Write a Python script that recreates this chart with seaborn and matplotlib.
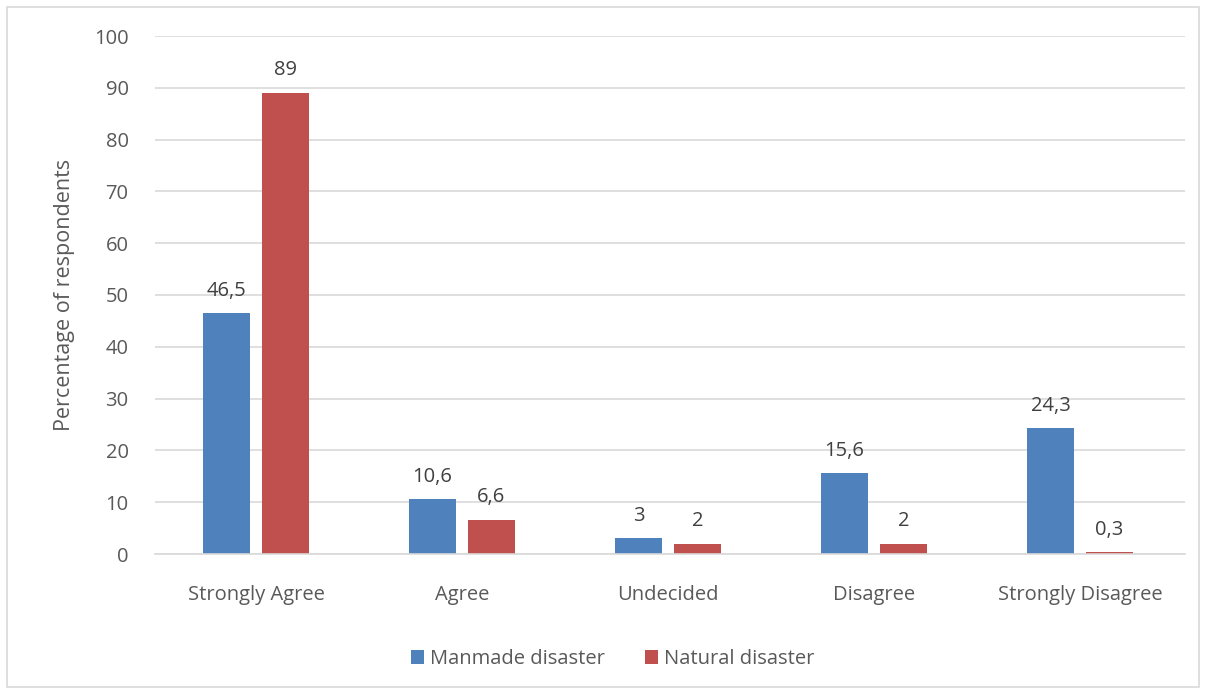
import matplotlib
matplotlib.use("Agg")
import matplotlib.pyplot as plt
import seaborn as sns
import pandas as pd
from matplotlib.patches import Rectangle

categories = ["Strongly Agree", "Agree", "Undecided", "Disagree", "Strongly Disagree"]
manmade = [46.5, 10.6, 3, 15.6, 24.3]
natural = [89, 6.6, 2, 2, 0.3]
series_names = ["Manmade disaster", "Natural disaster"]
yticks = [0, 10, 20, 30, 40, 50, 60, 70, 80, 90, 100]

df = pd.DataFrame({
    "category": categories * 2,
    "series": [series_names[0]] * len(categories) + [series_names[1]] * len(categories),
    "value": manmade + natural,
})

sns.set_theme(style="white")
plt.rcParams["font.family"] = ["Open Sans", "DejaVu Sans"]
text_color = "#595959"
grid_color = "#D9D9D9"

fig = plt.figure(figsize=(12.06, 6.91), dpi=100)
ax = fig.add_axes([155 / 1206, 1 - 554 / 691, 1030 / 1206, (554 - 36) / 691])

sns.barplot(data=df, x="category", y="value", hue="series",
            palette=["#4F81BD", "#C0504D"], width=0.57, gap=0.2,
            order=categories, hue_order=series_names, ax=ax, legend=True,
            saturation=1, linewidth=0)

ax.set_xlim(-0.49, len(categories) - 0.49)
ax.set_ylim(0, 100)
ax.set_yticks(yticks)
ax.yaxis.grid(True, color=grid_color, linewidth=1.2)
ax.set_axisbelow(True)
for side in ["top", "right", "left"]:
    ax.spines[side].set_visible(False)
ax.spines["bottom"].set_color(grid_color)
ax.spines["bottom"].set_linewidth(1.2)
ax.tick_params(axis="both", length=0, labelsize=14.5, colors=text_color)
ax.tick_params(axis="y", pad=19)
ax.tick_params(axis="x", pad=22)
ax.set_xlabel("")
ax.set_ylabel("Percentage of respondents", fontsize=15.5, color=text_color, labelpad=14)

def fmt(v):
    s = f"{v:g}"
    return s.replace(".", ",")

for container in ax.containers:
    ax.bar_label(container, labels=[fmt(b.get_height()) for b in container],
                 padding=9, fontsize=14.5, color="#404040")

handles, labels = ax.get_legend_handles_labels()
ax.legend(handles, labels, loc="center", bbox_to_anchor=(0.508, 1 - 659 / 691),
          bbox_transform=fig.transFigure, ncol=2, frameon=False, fontsize=14.5,
          labelcolor=text_color, handlelength=0.65, handleheight=0.65,
          handletextpad=0.3, columnspacing=2.0)

fig.patches.append(Rectangle((7 / 1206, 4 / 691), 1192 / 1206, 680 / 691,
                             transform=fig.transFigure, fill=False,
                             edgecolor=grid_color, linewidth=1.2))

fig.savefig("out.png", dpi=100)
